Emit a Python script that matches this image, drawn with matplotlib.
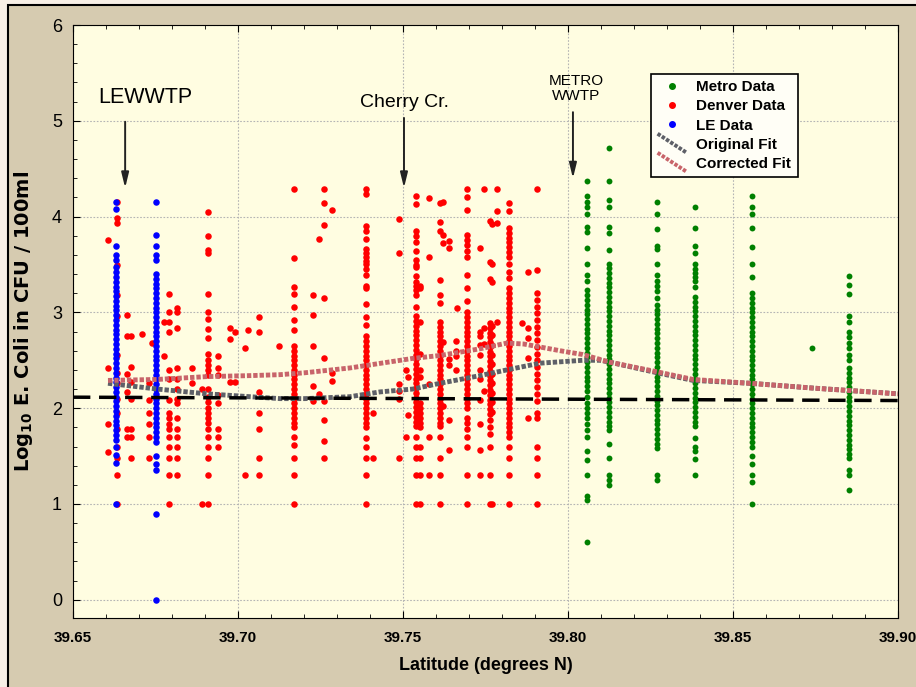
import matplotlib
matplotlib.use("Agg")
import matplotlib.pyplot as plt
from matplotlib.lines import Line2D
from matplotlib.patches import Rectangle
from matplotlib.legend_handler import HandlerBase
from matplotlib.ticker import MultipleLocator

plt.rcParams['font.family'] = ['Liberation Sans', 'DejaVu Sans']
plt.rcParams['mathtext.fontset'] = 'custom'
plt.rcParams['mathtext.rm'] = 'DejaVu Sans:bold'
plt.rcParams['mathtext.bf'] = 'DejaVu Sans:bold'

# === DATA (log10 E. coli per sampling latitude) ===
le_lat = [39.6629, 39.6752]
le_vals = [
    [4.15, 4.08, 3.69, 3.60, 3.55, 3.47, 3.42, 3.37, 3.32, 3.27, 3.22, 3.17, 3.12, 3.07, 3.02, 2.97,
     2.92, 2.87, 2.82, 2.77, 2.72, 2.67, 2.62, 2.57, 2.52, 2.47, 2.42, 2.37, 2.32, 2.27, 2.22, 2.17,
     2.12, 2.07, 2.02, 1.97, 1.92, 1.87, 1.82, 1.77, 1.72, 1.67, 1.60, 1.51, 1.43, 1.00],
    [4.15, 3.81, 3.69, 3.60, 3.55, 3.40, 3.35, 3.30, 3.25, 3.20, 3.15, 3.10, 3.05, 3.00, 2.95, 2.90,
     2.85, 2.80, 2.75, 2.70, 2.65, 2.60, 2.55, 2.50, 2.45, 2.40, 2.35, 2.30, 2.25, 2.20, 2.15, 2.10,
     2.05, 2.00, 1.95, 1.90, 1.85, 1.80, 1.75, 1.70, 1.65, 1.50, 1.42, 1.35, 0.90, 0.00],
]

denver_lat = [39.6606, 39.6634, 39.6665, 39.6677, 39.6710, 39.6730, 39.6740, 39.6776, 39.6790,
              39.6814, 39.6860, 39.6890, 39.6910, 39.6940, 39.6976, 39.6990, 39.7020, 39.7031,
              39.7065, 39.7123, 39.7170, 39.7228, 39.7245, 39.7260, 39.7286, 39.7388, 39.7408,
              39.7488, 39.7510, 39.7516, 39.7538, 39.7552, 39.7580, 39.7613, 39.7622, 39.7640,
              39.7660, 39.7664, 39.7693, 39.7733, 39.7746, 39.7763, 39.7770, 39.7786, 39.7820,
              39.7860, 39.7880, 39.7907]
denver_vals = [
    [3.76, 2.42, 1.84, 1.54],
    [4.15, 3.99, 3.93, 3.49, 3.18, 2.96, 2.56, 2.37, 2.26, 2.10, 1.95, 1.78, 1.60, 1.48, 1.30, 1.00],
    [2.97, 2.75, 2.36, 2.17, 1.78, 1.70],
    [2.75, 2.43, 2.27, 2.10, 1.78, 1.70, 1.48],
    [2.77],
    [2.26, 2.09, 1.95, 1.84, 1.70, 1.48],
    [2.68],
    [2.90, 2.54],
    [3.19, 3.00, 2.90, 2.80, 2.40, 2.30, 2.09, 1.95, 1.90, 1.84, 1.78, 1.70, 1.60, 1.48, 1.30, 1.00],
    [3.05, 3.00, 2.84, 2.42, 2.30, 2.20, 2.10, 2.05, 1.90, 1.78, 1.70, 1.60, 1.48, 1.30],
    [2.42, 2.26],
    [2.20, 1.00],
    [4.05, 3.80, 3.65, 3.62, 3.19, 3.00, 2.93, 2.83, 2.73, 2.57, 2.50, 2.45, 2.40, 2.35, 2.20, 2.12,
     2.06, 2.00, 1.95, 1.90, 1.85, 1.78, 1.70, 1.60, 1.48, 1.30, 1.00],
    [2.55, 2.42, 2.35, 2.14, 2.05, 1.78, 1.70, 1.60],
    [2.84, 2.72, 2.27],
    [2.80, 2.27],
    [2.63, 1.30],
    [2.82],
    [2.95, 2.80, 2.17, 1.95, 1.78, 1.48, 1.30],
    [2.65],
    [4.29, 3.57, 3.27, 3.19, 3.06, 2.92, 2.82, 2.65, 2.60, 2.55, 2.50, 2.45, 2.40, 2.35, 2.30, 2.25,
     2.20, 2.15, 2.10, 2.05, 2.00, 1.95, 1.90, 1.85, 1.80, 1.70, 1.62, 1.48, 1.30, 1.00],
    [3.18, 2.97, 2.65, 2.23, 2.07],
    [3.77, 2.15],
    [4.29, 4.14, 3.91, 3.15, 2.52, 2.07, 1.88, 1.66, 1.48],
    [4.07, 2.37, 2.28],
    [4.29, 4.24, 3.90, 3.85, 3.77, 3.66, 3.62, 3.58, 3.54, 3.50, 3.45, 3.39, 3.28, 3.25, 3.09, 2.95,
     2.87, 2.75, 2.70, 2.65, 2.60, 2.55, 2.50, 2.45, 2.40, 2.35, 2.30, 2.25, 2.20, 2.15, 2.10, 2.05,
     2.00, 1.95, 1.90, 1.85, 1.80, 1.69, 1.60, 1.48, 1.30, 1.00],
    [1.95, 1.48],
    [3.98, 3.62, 2.25, 2.18, 2.10, 1.48],
    [2.40, 1.70],
    [2.33, 1.93],
    [4.21, 4.13, 3.85, 3.80, 3.74, 3.64, 3.55, 3.49, 3.47, 3.38, 3.32, 3.28, 3.23, 3.18, 3.06, 2.96,
     2.91, 2.86, 2.81, 2.76, 2.71, 2.66, 2.61, 2.56, 2.51, 2.46, 2.41, 2.36, 2.31, 2.26, 2.21, 2.16,
     2.11, 2.06, 2.01, 1.96, 1.91, 1.86, 1.81, 1.70, 1.60, 1.48, 1.30, 1.00],
    [3.28, 3.25, 2.90, 2.57, 2.40, 2.33, 2.05, 2.00, 1.95, 1.90, 1.85, 1.80, 1.60, 1.48, 1.30, 1.00],
    [4.19, 3.58, 2.25, 1.70, 1.30],
    [4.14, 3.94, 3.85, 3.34, 3.18, 3.10, 2.90, 2.85, 2.80, 2.75, 2.70, 2.65, 2.60, 2.55, 2.50, 2.45,
     2.40, 2.35, 2.30, 2.25, 2.20, 2.15, 2.10, 2.05, 2.00, 1.95, 1.90, 1.85, 1.81, 1.70, 1.48, 1.30,
     1.00],
    [4.15, 3.81, 3.72, 2.69, 2.02],
    [3.75, 3.67, 2.51, 2.45, 1.88, 1.56],
    [2.70, 2.60, 2.54, 2.40],
    [3.05],
    [4.29, 4.20, 4.07, 3.81, 3.76, 3.70, 3.64, 3.58, 3.39, 3.25, 3.12, 3.00, 2.95, 2.90, 2.85, 2.80,
     2.75, 2.70, 2.65, 2.60, 2.55, 2.50, 2.45, 2.40, 2.35, 2.30, 2.25, 2.20, 2.15, 2.10, 2.05, 2.00,
     1.90, 1.85, 1.78, 1.70, 1.60, 1.30, 1.00],
    [3.67, 2.80, 2.75, 2.66, 2.56, 2.40, 2.30, 2.09, 1.84, 1.56, 1.30],
    [4.29, 2.84, 2.67, 2.18],
    [3.95, 3.53, 3.35, 2.89, 2.84, 2.79, 2.74, 2.69, 2.64, 2.59, 2.54, 2.49, 2.44, 2.39, 2.34, 2.29,
     2.24, 2.19, 2.14, 2.09, 2.04, 1.99, 1.94, 1.88, 1.80, 1.73, 1.60, 1.30, 1.00],
    [3.92, 3.50, 3.32, 2.86, 2.76, 2.66, 2.56, 2.46, 2.36, 2.26, 2.16, 2.06, 1.96, 1.00],
    [4.29, 4.06, 3.93, 2.90],
    [4.14, 4.06, 3.88, 3.83, 3.78, 3.73, 3.68, 3.63, 3.58, 3.50, 3.42, 3.36, 3.25, 3.20, 3.15, 3.10,
     3.05, 3.00, 2.95, 2.90, 2.85, 2.80, 2.75, 2.70, 2.65, 2.60, 2.55, 2.50, 2.45, 2.40, 2.35, 2.30,
     2.25, 2.20, 2.15, 2.10, 2.05, 2.00, 1.95, 1.90, 1.85, 1.80, 1.75, 1.70, 1.60, 1.48, 1.30, 1.00],
    [2.89],
    [3.42, 2.84, 2.73, 2.52, 1.90],
    [4.29, 3.44, 3.20, 3.13, 3.06, 2.99, 2.92, 2.85, 2.78, 2.71, 2.64, 2.57, 2.50, 2.43, 2.36, 2.29,
     2.22, 2.15, 2.08, 1.95, 1.90, 1.60, 1.48, 1.30, 1.00],
]

metro_lat = [39.8057, 39.8124, 39.8270, 39.8384, 39.8559, 39.8739, 39.8852]
metro_vals = [
    [4.37, 4.21, 4.15, 4.10, 4.03, 3.89, 3.84, 3.67, 3.51, 3.39, 3.33, 3.23, 3.18, 3.13, 3.08, 3.03,
     2.98, 2.93, 2.88, 2.83, 2.78, 2.73, 2.68, 2.63, 2.58, 2.53, 2.48, 2.43, 2.38, 2.33, 2.28, 2.23,
     2.18, 2.12, 2.05, 2.00, 1.95, 1.90, 1.83, 1.77, 1.70, 1.55, 1.46, 1.30, 1.08, 1.04, 0.60],
    [4.72, 4.37, 4.17, 4.10, 3.89, 3.83, 3.65, 3.51, 3.46, 3.41, 3.36, 3.31, 3.26, 3.21, 3.16, 3.11,
     3.06, 3.01, 2.96, 2.91, 2.86, 2.81, 2.76, 2.71, 2.66, 2.61, 2.56, 2.51, 2.46, 2.41, 2.36, 2.31,
     2.26, 2.21, 2.16, 2.11, 2.06, 2.01, 1.96, 1.91, 1.86, 1.81, 1.77, 1.63, 1.48, 1.30, 1.25, 1.20],
    [4.15, 4.03, 3.87, 3.69, 3.66, 3.51, 3.39, 3.33, 3.28, 3.22, 3.15, 3.08, 3.03, 2.98, 2.93, 2.88,
     2.83, 2.78, 2.73, 2.68, 2.63, 2.58, 2.53, 2.48, 2.43, 2.38, 2.33, 2.28, 2.23, 2.18, 2.13, 2.08,
     2.03, 1.98, 1.93, 1.88, 1.83, 1.78, 1.73, 1.68, 1.63, 1.58, 1.30, 1.25],
    [4.10, 3.88, 3.69, 3.62, 3.51, 3.45, 3.41, 3.37, 3.33, 3.27, 3.16, 3.11, 3.06, 3.01, 2.96, 2.91,
     2.86, 2.81, 2.76, 2.71, 2.66, 2.61, 2.56, 2.51, 2.46, 2.41, 2.36, 2.31, 2.26, 2.21, 2.16, 2.11,
     2.06, 2.01, 1.96, 1.91, 1.86, 1.81, 1.69, 1.60, 1.55, 1.47, 1.30],
    [4.21, 4.10, 4.03, 3.88, 3.68, 3.50, 3.37, 3.20, 3.15, 3.10, 3.05, 3.00, 2.95, 2.90, 2.85, 2.80,
     2.75, 2.70, 2.65, 2.60, 2.55, 2.50, 2.45, 2.40, 2.35, 2.30, 2.25, 2.20, 2.15, 2.10, 2.05, 2.00,
     1.95, 1.90, 1.85, 1.80, 1.75, 1.70, 1.65, 1.60, 1.50, 1.42, 1.30, 1.23, 1.00],
    [2.63],
    [3.38, 3.29, 3.19, 2.96, 2.90, 2.80, 2.74, 2.68, 2.63, 2.56, 2.50, 2.42, 2.37, 2.32, 2.27, 2.22,
     2.17, 2.12, 2.07, 2.02, 1.97, 1.92, 1.87, 1.82, 1.77, 1.72, 1.67, 1.62, 1.57, 1.52, 1.48, 1.35,
     1.30, 1.15],
]

orig_fit_lat = [39.6606, 39.6755, 39.6906, 39.7036, 39.7127, 39.7203, 39.7339, 39.7430, 39.7530,
                39.7612, 39.7733, 39.7815, 39.7915, 39.8045, 39.8097, 39.8127, 39.8270, 39.8379,
                39.8552, 39.8742, 39.8915, 39.9000]
orig_fit = [2.26, 2.20, 2.15, 2.12, 2.10, 2.10, 2.12, 2.17, 2.20, 2.26, 2.34, 2.40, 2.47, 2.50,
            2.50, 2.48, 2.37, 2.29, 2.26, 2.21, 2.17, 2.15]
corr_fit_lat = [39.6606, 39.6755, 39.6906, 39.7036, 39.7127, 39.7203, 39.7339, 39.7530, 39.7612,
                39.7733, 39.7815, 39.7866, 39.7976, 39.8045, 39.8127, 39.8270, 39.8379, 39.8552,
                39.8742, 39.8915, 39.9000]
corr_fit = [2.29, 2.30, 2.33, 2.34, 2.35, 2.37, 2.42, 2.52, 2.55, 2.62, 2.68, 2.67, 2.60, 2.56,
            2.48, 2.38, 2.30, 2.26, 2.21, 2.17, 2.15]
base_lat = [39.65, 39.90]
base_fit = [2.115, 2.08]

# sites: label, latitude of arrow, arrow tail, arrow tip, text position
site_names = ["LEWWTP", "Cherry Cr.", "METRO\nWWTP"]
site_lat = [39.6658, 39.7503, 39.8015]
site_tail = [4.99, 5.03, 5.09]
site_tip = [4.30, 4.30, 4.40]
site_text_x = [39.6718, 39.7506, 39.8024]
site_text_y = [5.24, 5.19, 5.34]
site_text_size = [15.5, 14, 11]


def flatten(lats, vals):
    xs, ys = [], []
    for lat, vs in zip(lats, vals):
        xs += [lat] * len(vs)
        ys += vs
    return xs, ys


class DiagHandler(HandlerBase):
    def create_artists(self, legend, orig_handle, xdescent, ydescent, width, height, fontsize, trans):
        line = Line2D([-xdescent, -xdescent + width], [-ydescent + height + 3, -ydescent - 3])
        self.update_prop(line, orig_handle, legend)
        line.set_linewidth(2.8)
        line.set_transform(trans)
        return [line]


# === PLOT ===
fig = plt.figure(figsize=(9.16, 6.87), dpi=100, facecolor='#F7EFE6')
fig.patches.append(Rectangle((8 / 916, -0.05), 1.0, 1 - 5 / 687 + 0.05, transform=fig.transFigure,
                             facecolor='#D6CBB0', edgecolor='black', lw=1.5, zorder=-10))
ax = fig.add_axes([73 / 916, 1 - 618 / 687, 825 / 916, 593 / 687])
ax.set_facecolor('#FFFDE1')

dx, dy = flatten(denver_lat, denver_vals)
lx, ly = flatten(le_lat, le_vals)
mx, my = flatten(metro_lat, metro_vals)
ax.scatter(dx, dy, s=22, color='#FF0000', linewidths=0, zorder=3)
ax.scatter(lx, ly, s=22, color='#0000FF', linewidths=0, zorder=3)
ax.scatter(mx, my, s=18, color='#008000', linewidths=0, zorder=3)

fit_o, = ax.plot(orig_fit_lat, orig_fit, color='#5E6068', lw=3.5, dashes=(0.9, 0.4), zorder=4)
fit_c, = ax.plot(corr_fit_lat, corr_fit, color='#C8646A', lw=3.5, dashes=(0.9, 0.4), zorder=5)
ax.plot(base_lat, base_fit, color='black', lw=2.5, dashes=(5, 2.5), zorder=6)

for name, lat, tail, tip, tx, ty, fs in zip(site_names, site_lat, site_tail, site_tip,
                                            site_text_x, site_text_y, site_text_size):
    ax.annotate('', xy=(lat, tip), xytext=(lat, tail),
                arrowprops=dict(arrowstyle='-|>,head_length=0.9,head_width=0.22', color='#222222',
                                lw=1.4, shrinkA=0, shrinkB=0), zorder=7)
    ax.text(tx, ty, name, ha='center', va='center', fontsize=fs, linespacing=1.1, zorder=7)

ax.set_xlim(39.65, 39.90)
ax.set_ylim(-0.19, 6)
ax.xaxis.set_major_locator(MultipleLocator(0.05))
ax.xaxis.set_minor_locator(MultipleLocator(0.01))
ax.yaxis.set_major_locator(MultipleLocator(1))
ax.yaxis.set_minor_locator(MultipleLocator(0.2))
ax.set_xticklabels([f"{v:.2f}" for v in ax.get_xticks()], fontweight='bold', fontsize=11)
ax.tick_params(axis='x', which='both', direction='in', top=True, pad=9)
ax.tick_params(axis='y', which='both', direction='in', labelsize=13, pad=8)
ax.tick_params(which='major', length=5)
ax.tick_params(which='minor', length=3)
ax.grid(True, which='major', color='#B4B4B4', lw=0.8, ls=(0, (1.5, 1.5)))
ax.set_axisbelow(True)

ax.set_xlabel("Latitude (degrees N)", fontweight='bold', fontsize=13, labelpad=9)
ax.set_ylabel(r"Log$_{10}$ E. Coli in CFU / 100ml", fontweight='bold', fontsize=14,
              family='DejaVu Sans', labelpad=12)

handles = [
    Line2D([], [], marker='o', ls='', color='#008000', markersize=4),
    Line2D([], [], marker='o', ls='', color='#FF0000', markersize=4),
    Line2D([], [], marker='o', ls='', color='#0000FF', markersize=4),
    fit_o, fit_c,
]
labels = ["Metro Data", "Denver Data", "LE Data", "Original Fit", "Corrected Fit"]
leg = ax.legend(handles, labels, loc='upper left', bbox_to_anchor=(0.691, 0.931),
                prop={'weight': 'bold', 'size': 11}, frameon=True, fancybox=False,
                edgecolor='black', facecolor='#FFFEF6', framealpha=1, labelspacing=0.33,
                handlelength=1.9, handletextpad=0.6, borderpad=0.45,
                handler_map={fit_o: DiagHandler(), fit_c: DiagHandler()})
leg.get_frame().set_linewidth(1.2)
leg.set_zorder(10)

fig.savefig("out.png", dpi=100, facecolor=fig.get_facecolor())
